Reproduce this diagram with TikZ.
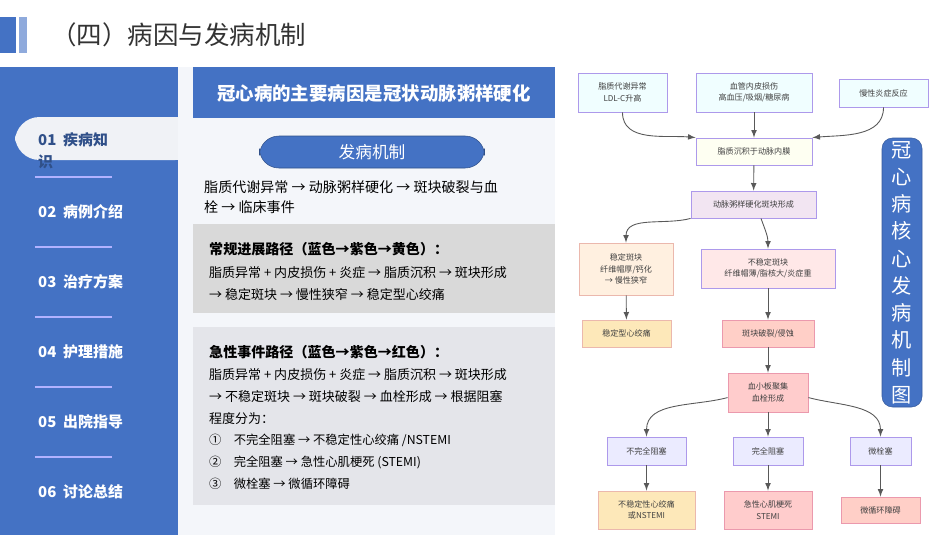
\documentclass[tikz,border=0pt]{standalone}
\usepackage{fontspec}
\setmainfont{Noto Sans CJK SC}
\definecolor{mb}{RGB}{68,114,196}
\definecolor{lb}{RGB}{143,170,220}
\definecolor{tabc}{RGB}{240,242,246}
\definecolor{panel}{RGB}{244,246,250}
\definecolor{g1}{RGB}{217,217,217}
\definecolor{g2}{RGB}{228,229,234}
\begin{document}
\begin{tikzpicture}[x=0.02cm,y=-0.02cm,
  bx/.style 2 args={draw=#1!60!violet!40,fill=#2,line width=0.5pt,align=center,inner sep=0pt,font=\fontsize{4.6}{6.5}\selectfont,text=black!75},
  sz/.style 2 args={minimum width=#1*0.02cm,minimum height=#2*0.02cm},
  arr/.style={draw=black!65,line width=0.5pt,-{latex}},
  side/.style={anchor=west,text=white,font=\fontsize{8.5}{10}\selectfont\bfseries},
  body/.style={anchor=west,font=\fontsize{8}{10}\selectfont,text=black},
  sep/.style={draw=blue!30!white,line width=0.6pt}]
\useasboundingbox (0,0) rectangle (950,535);
\fill[white] (0,0) rectangle (950,535);
% title
\fill[mb] (0,17) rectangle (16,53);
\fill[lb] (19,17) rectangle (27,53);
\node[anchor=west,font=\fontsize{14.5}{16}\selectfont,text=black!80] (title) at (45,35) {（四）病因与发病机制};
% sidebar
\fill[mb] (0,67) rectangle (178,535);
\fill[tabc,rounded corners=14pt] (15,117) rectangle (200,160);
\node[side,text=mb!70!black] (s1) at (32,140) {01\ \ 疾病知};
\node[side,text=mb!70!black] (s1b) at (32,162) {识};
\draw[sep] (35,177) -- (112,177);
\node[side] (s2) at (32,212) {02\ \ 病例介绍};
\draw[sep] (35,247) -- (112,247);
\node[side] (s3) at (32,282) {03\ \ 治疗方案};
\draw[sep] (35,317) -- (112,317);
\node[side] (s4) at (32,352) {04\ \ 护理措施};
\draw[sep] (35,387) -- (112,387);
\node[side] (s5) at (32,422) {05\ \ 出院指导};
\draw[sep] (35,457) -- (112,457);
\node[side] (s6) at (32,492) {06\ \ 讨论总结};
% middle
\fill[panel] (178,67) rectangle (555,535);
\fill[mb] (193,67) rectangle (555,118);
\node[text=white,font=\fontsize{10.5}{12}\selectfont\bfseries] (hdr) at (374,93) {冠心病的主要病因是冠状动脉粥样硬化};
\node[fill=mb,draw=mb!70!black,line width=0.3pt,rounded corners=11pt,minimum width=225*0.02cm,minimum height=32*0.02cm,text=white,font=\fontsize{9.5}{11}\selectfont] (btn) at (372,152) {发病机制};
\node[body] (t1) at (198,187) {脂质代谢异常 → 动脉粥样硬化 → 斑块破裂与血};
\node[body] (t2) at (198,207) {栓 → 临床事件};
\fill[g1] (193,224) rectangle (555,313);
\node[body,font=\fontsize{8}{10}\selectfont\bfseries] (b1) at (203,249) {常规进展路径（蓝色→紫色→黄色）：};
\node[body,font=\fontsize{7.4}{9}\selectfont] (b1a) at (203,273) {脂质异常 + 内皮损伤 + 炎症 → 脂质沉积 → 斑块形成};
\node[body,font=\fontsize{7.4}{9}\selectfont] (b1b) at (203,294) {→ 稳定斑块 → 慢性狭窄 → 稳定型心绞痛};
\fill[g2] (193,327) rectangle (555,505);
\node[body,font=\fontsize{8}{10}\selectfont\bfseries] (b2) at (203,352) {急性事件路径（蓝色→紫色→红色）：};
\node[body,font=\fontsize{7.4}{9}\selectfont] (b2a) at (203,375) {脂质异常 + 内皮损伤 + 炎症 → 脂质沉积 → 斑块形成};
\node[body,font=\fontsize{7.4}{9}\selectfont] (b2b) at (203,397) {→ 不稳定斑块 → 斑块破裂 → 血栓形成 → 根据阻塞};
\node[body,font=\fontsize{7.4}{9}\selectfont] (b2c) at (203,419) {程度分为：};
\node[body,font=\fontsize{7}{9}\selectfont] (b2d) at (203,440) {①\quad 不完全阻塞 → 不稳定性心绞痛 /NSTEMI};
\node[body,font=\fontsize{7}{9}\selectfont] (b2e) at (203,462) {②\quad 完全阻塞 → 急性心肌梗死 (STEMI)};
\node[body,font=\fontsize{7}{9}\selectfont] (b2f) at (203,484) {③\quad 微栓塞 → 微循环障碍};
% flowchart
\node[bx={blue}{blue!8!cyan!6},sz={89}{39}] (A) at (622.5,92.5) {脂质代谢异常\\LDL-C升高};
\node[bx={blue}{blue!8!cyan!6},sz={116}{39}] (B) at (754,92.5) {血管内皮损伤\\高血压/吸烟/糖尿病};
\node[bx={blue}{blue!8!cyan!6},sz={89}{28}] (C) at (883.5,93) {慢性炎症反应};
\node[bx={blue}{green!6!yellow!5},sz={116}{27}] (D) at (754,151.5) {脂质沉积于动脉内膜};
\node[bx={blue}{violet!10},sz={125}{27}] (E) at (753.5,204.5) {动脉粥样硬化斑块形成};
\node[bx={orange}{orange!12},sz={94}{52}] (F) at (626,269) {稳定斑块\\纤维帽厚/钙化\\→ 慢性狭窄};
\node[bx={blue}{red!9},sz={134}{39}] (G) at (768,268.5) {不稳定斑块\\纤维帽薄/脂核大/炎症重};
\node[bx={orange}{yellow!35!orange!25},sz={89}{27}] (H) at (626.5,333.5) {稳定型心绞痛};
\node[bx={red}{orange!30!red!22},sz={92}{27}] (I) at (768,333.5) {斑块破裂/侵蚀};
\node[bx={red}{red!20},sz={80}{39}] (J) at (768,392.5) {血小板聚集\\血栓形成};
\node[bx={blue}{blue!8},sz={79}{28}] (K) at (646.5,451) {不完全阻塞};
\node[bx={blue}{blue!8},sz={70}{28}] (L) at (768,451) {完全阻塞};
\node[bx={blue}{blue!8},sz={61}{28}] (M) at (880.5,451) {微栓塞};
\node[bx={orange}{yellow!35!orange!25},sz={97}{38}] (N) at (646.5,510) {不稳定性心绞痛\\或NSTEMI};
\node[bx={red}{red!20},sz={88}{38}] (O) at (768,510) {急性心肌梗死\\STEMI};
\node[bx={red}{orange!30!red!22},sz={79}{26}] (P) at (880.5,510) {微循环障碍};
\node[fill=mb,draw=mb!80!black,line width=0.3pt,rounded corners=6pt,minimum width=40*0.02cm,minimum height=269*0.02cm,text=white,align=center,font=\fontsize{11.5}{15.5}\selectfont,inner sep=0pt] (V) at (902,272.5) {冠\\心\\病\\核\\心\\发\\病\\机\\制\\图};
\draw[arr] (A.south) to[out=-90,in=175] (D.north west);
\draw[arr] (B) -- (D);
\draw[arr] (C.south) to[out=-90,in=5] (D.north east);
\draw[arr] (D) -- (E);
\draw[arr] (E.south west) to[out=195,in=90] (F.north);
\draw[arr] ([xshift=0.15cm]E.south) to[out=-70,in=90] (G.north);
\draw[arr] (F) -- (H);
\draw[arr] (G) -- (I);
\draw[arr] (I) -- (J);
\draw[arr] ([yshift=-0.5cm]J.north west) to[out=195,in=90] (K.north);
\draw[arr] (J) -- (L);
\draw[arr] ([yshift=-0.5cm]J.north east) to[out=-15,in=90] (M.north);
\draw[arr] (K) -- (N);
\draw[arr] (L) -- (O);
\draw[arr] (M) -- (P);
\end{tikzpicture}
\end{document}
